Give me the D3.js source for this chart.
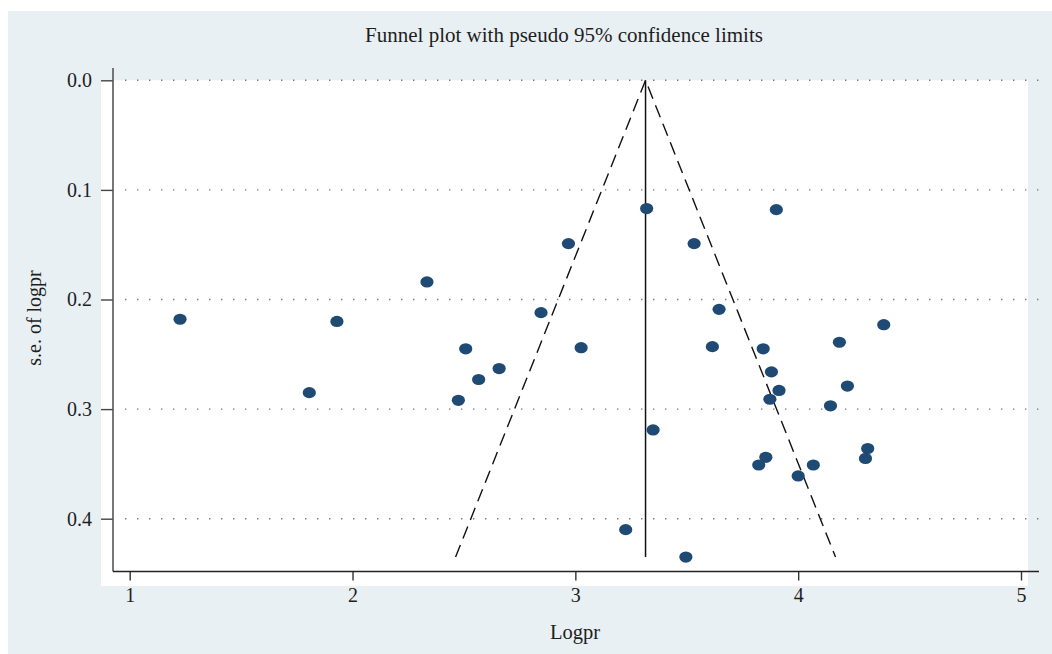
<!DOCTYPE html>
<html>
<head>
<meta charset="utf-8">
<script src="https://cdn.jsdelivr.net/npm/d3@7"></script>
<style>
  html, body { margin: 0; padding: 0; background: #ffffff; }
  svg { display: block; }
  text { font-family: "Liberation Serif", "DejaVu Serif", serif; fill: #1e1e1e; }
</style>
</head>
<body>
<svg id="chart" width="1052" height="654"></svg>
<script>
// ---- data ----
const title = "Funnel plot with pseudo 95% confidence limits";
const xLabel = "Logpr";
const yLabel = "s.e. of logpr";
const xTicks = [1, 2, 3, 4, 5];
const yTicks = [0.0, 0.1, 0.2, 0.3, 0.4];
const logpr = [1.226, 1.930, 1.806, 2.334, 2.969, 2.846, 2.508, 3.026, 2.658, 2.566, 2.475, 3.320,
               3.902, 3.533, 3.645, 4.384, 3.615, 3.843, 4.185, 3.880, 4.221, 3.914, 3.873, 4.145,
               3.349, 3.855, 3.823, 4.000, 4.068, 4.312, 4.302, 3.226, 3.496];
const seLogpr = [0.218, 0.220, 0.285, 0.184, 0.149, 0.212, 0.245, 0.244, 0.263, 0.273, 0.292, 0.117,
                 0.118, 0.149, 0.209, 0.223, 0.243, 0.245, 0.239, 0.266, 0.279, 0.283, 0.291, 0.297,
                 0.319, 0.344, 0.351, 0.361, 0.351, 0.336, 0.345, 0.410, 0.435];
const pooledEstimate = 3.315;
const zCrit = 1.96;

// ---- layout ----
const svg = d3.select("#chart");
const bgColor = "#e9f0f3";
const pointColor = "#1f4a74";

const x = d3.scaleLinear().domain([1, 5]).range([129.7, 1021]);
const y = d3.scaleLinear().domain([0, 0.4]).range([80.3, 518.7]);

// outer background
svg.append("rect").attr("x", 8).attr("y", 11).attr("width", 1044).attr("height", 643).attr("fill", bgColor);

// plot region (white)
const plotLeft = 101, plotRight = 1028, plotTop = y(0), plotBottom = 586;
svg.append("rect").attr("x", plotLeft).attr("y", plotTop)
  .attr("width", plotRight - plotLeft).attr("height", plotBottom - plotTop).attr("fill", "#ffffff");

const axisX = 113;   // y-axis line position
const axisY = 571.5; // x-axis line position

// grid lines (dotted)
svg.append("g").selectAll("line").data(yTicks).join("line")
  .attr("x1", 125).attr("x2", 1039)
  .attr("y1", d => y(d)).attr("y2", d => y(d))
  .attr("stroke", "#777").attr("stroke-width", 1.4)
  .attr("stroke-dasharray", "1.4,10.6");

// y axis
const yAxis = d3.axisLeft(y).tickValues(yTicks).tickFormat(d3.format(".1f")).tickSize(12).tickPadding(9);
const gy = svg.append("g").attr("transform", `translate(${axisX},0)`).call(yAxis);
gy.select(".domain").remove();
gy.selectAll(".tick line").attr("stroke", "#444").attr("stroke-width", 1.4);
gy.selectAll(".tick text").attr("font-family", "Liberation Serif, serif").attr("font-size", 20).attr("fill", "#1e1e1e");
svg.append("line").attr("x1", axisX).attr("x2", axisX).attr("y1", 68).attr("y2", axisY)
  .attr("stroke", "#555").attr("stroke-width", 1.6);

// x axis
const xAxis = d3.axisBottom(x).tickValues(xTicks).tickFormat(d3.format("d")).tickSize(9).tickPadding(7);
const gx = svg.append("g").attr("transform", `translate(0,${axisY})`).call(xAxis);
gx.select(".domain").remove();
gx.selectAll(".tick line").attr("stroke", "#333").attr("stroke-width", 1.4);
gx.selectAll(".tick text").attr("font-family", "Liberation Serif, serif").attr("font-size", 20).attr("fill", "#1e1e1e");
svg.append("line").attr("x1", axisX).attr("x2", 1039).attr("y1", axisY).attr("y2", axisY)
  .attr("stroke", "#222").attr("stroke-width", 1.6);

// funnel lines
const maxSE = d3.max(seLogpr);
const lineGen = d3.line().x(d => x(d[0])).y(d => y(d[1]));
svg.append("path")
  .attr("d", lineGen([[pooledEstimate, 0], [pooledEstimate, maxSE]]))
  .attr("stroke", "#111").attr("stroke-width", 1.5).attr("fill", "none");
svg.append("path")
  .attr("d", lineGen([[pooledEstimate - zCrit * maxSE, maxSE], [pooledEstimate, 0], [pooledEstimate + zCrit * maxSE, maxSE]]))
  .attr("stroke", "#111").attr("stroke-width", 1.4).attr("fill", "none")
  .attr("stroke-dasharray", "13,7");

// points
const pts = logpr.map((v, i) => ({ x: v, se: seLogpr[i] }));
svg.append("g").selectAll("ellipse").data(pts).join("ellipse")
  .attr("cx", d => x(d.x)).attr("cy", d => y(d.se))
  .attr("rx", 6.6).attr("ry", 5.6)
  .attr("fill", pointColor);

// title
svg.append("text").attr("x", 564).attr("y", 42).attr("text-anchor", "middle")
  .attr("font-size", 21).text(title);

// axis titles
svg.append("text").attr("x", 575).attr("y", 638.5).attr("text-anchor", "middle")
  .attr("font-size", 20.5).text(xLabel);
svg.append("text").attr("transform", "translate(41,318) rotate(-90)").attr("text-anchor", "middle")
  .attr("font-size", 20).text(yLabel);
</script>
</body>
</html>
